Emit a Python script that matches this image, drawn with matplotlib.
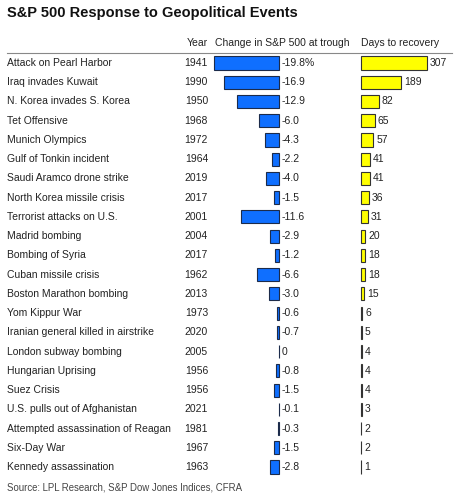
import matplotlib
matplotlib.use("Agg")
import matplotlib.pyplot as plt
from matplotlib.transforms import blended_transform_factory

events = ["Attack on Pearl Harbor", "Iraq invades Kuwait", "N. Korea invades S. Korea",
          "Tet Offensive", "Munich Olympics", "Gulf of Tonkin incident",
          "Saudi Aramco drone strike", "North Korea missile crisis",
          "Terrorist attacks on U.S.", "Madrid bombing", "Bombing of Syria",
          "Cuban missile crisis", "Boston Marathon bombing", "Yom Kippur War",
          "Iranian general killed in airstrike", "London subway bombing",
          "Hungarian Uprising", "Suez Crisis", "U.S. pulls out of Afghanistan",
          "Attempted assassination of Reagan", "Six-Day War", "Kennedy assassination"]
years = [1941, 1990, 1950, 1968, 1972, 1964, 2019, 2017, 2001, 2004, 2017,
         1962, 2013, 1973, 2020, 2005, 1956, 1956, 2021, 1981, 1967, 1963]
change = [-19.8, -16.9, -12.9, -6.0, -4.3, -2.2, -4.0, -1.5, -11.6, -2.9, -1.2,
          -6.6, -3.0, -0.6, -0.7, 0.0, -0.8, -1.5, -0.1, -0.3, -1.5, -2.8]
days = [307, 189, 82, 65, 57, 41, 41, 36, 31, 20, 18, 18, 15, 6, 5, 4, 4, 4, 3, 2, 2, 1]
change_labels = ["-19.8%"] + [("0" if v == 0 else f"{v:.1f}") for v in change[1:]]

W, H = 462, 500
plt.rcParams['font.family'] = ['Liberation Sans', 'DejaVu Sans']
fig = plt.figure(figsize=(W / 100, H / 100), dpi=100)
FS = 7.5

n = len(events)
row0, step = 63.0, 19.24
top_px, bot_px = 53.0, 477.0
ylim = ((bot_px - row0) / step, (top_px - row0) / step)

def fx(px):
    return px / W

def fy(px):
    return 1 - px / H

# Blue axis: zero at x=279, scale 3.27 px per unit
zero_b, sc_b = 279.0, 3.27
bl, br = 200.0, 300.0
axb = fig.add_axes([fx(bl), fy(bot_px), (br - bl) / W, (bot_px - top_px) / H])
axb.set_xlim(-(zero_b - bl) / sc_b, (br - zero_b) / sc_b)
axb.set_ylim(*ylim)
axb.axis('off')
rows = list(range(n))
axb.barh(rows, change, height=0.68, color='#0f6fff', edgecolor='#1c2b4a', linewidth=0.8)
for i, (v, lab) in enumerate(zip(change, change_labels)):
    axb.annotate(lab, xy=(0, i), xytext=(3, 0), textcoords='offset pixels',
                 ha='left', va='center', fontsize=FS, color='#222222')

# Yellow axis: zero at x=361, scale 0.214 px per day
zero_y, sc_y = 361.0, 0.214
yl, yr = 355.0, 462.0
axy = fig.add_axes([fx(yl), fy(bot_px), (yr - yl) / W, (bot_px - top_px) / H])
axy.set_xlim(-(zero_y - yl) / sc_y, (yr - zero_y) / sc_y)
axy.set_ylim(*ylim)
axy.axis('off')
axy.barh(rows, days, height=0.68, color='#ffff00', edgecolor='#333333', linewidth=0.8)
for i, d in enumerate(days):
    axy.annotate(str(d), xy=(d, i), xytext=(3, 0), textcoords='offset pixels',
                 ha='left', va='center', fontsize=FS, color='#222222')

# Text columns
tr = blended_transform_factory(fig.transFigure, axb.transData)
for i, (e, yv) in enumerate(zip(events, years)):
    axb.text(fx(7), i, e, transform=tr, ha='left', va='center', fontsize=FS, color='#222222')
    axb.text(fx(208), i, str(yv), transform=tr, ha='right', va='center', fontsize=FS, color='#222222')

# Headers
fig.text(fx(208), fy(43), "Year", ha='right', va='center', fontsize=FS, color='#222222')
fig.text(fx(215), fy(43), "Change in S&P 500 at trough", ha='left', va='center', fontsize=FS, color='#222222')
fig.text(fx(361), fy(43), "Days to recovery", ha='left', va='center', fontsize=FS, color='#222222')
fig.add_artist(plt.Line2D([fx(7), fx(452)], [fy(53), fy(53)], color='#888888', linewidth=0.8,
                          transform=fig.transFigure))

fig.text(fx(7), fy(13), "S&P 500 Response to Geopolitical Events", ha='left', va='center',
         fontsize=10.55, fontweight='bold', color='#111111')
fig.text(fx(7), fy(488), "Source: LPL Research, S&P Dow Jones Indices, CFRA", ha='left', va='center',
         fontsize=6.9, color='#444444')

fig.savefig("out.png", dpi=100, facecolor='white')
